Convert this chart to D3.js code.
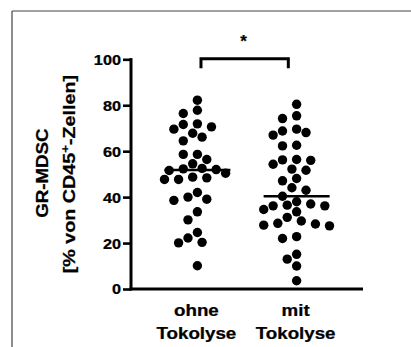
<!DOCTYPE html>
<html>
<head>
<meta charset="utf-8">
<script src="https://cdn.jsdelivr.net/npm/d3@7"></script>
<style>
  html, body { margin: 0; padding: 0; background: #fff; }
  svg { display: block; }
  text { font-family: "Liberation Sans", Arial, sans-serif; font-weight: bold; fill: #000; stroke: #000; stroke-width: 0.25px; }
</style>
</head>
<body>
<svg id="chart" width="411" height="347"></svg>
<script>
// ---- data ----
const groups = ["ohne Tokolyse", "mit Tokolyse"];
const groupLabelLines = [["ohne", "Tokolyse"], ["mit", "Tokolyse"]];
const ohneValues = [82.2, 77.8, 76.4, 71.9, 71.6, 70.6, 69.6, 67.8, 66.1, 64.5,
  58.6, 58.6, 56.4, 54.5, 52.5, 52.3, 52.0, 51.6, 50.4, 48.7, 48.4, 47.7, 47.7,
  42.0, 40.0, 39.1, 38.6, 33.6, 30.1, 24.6, 22.2, 20.3, 20.1, 10.1];
const mitValues = [80.4, 75.4, 74.2, 69.6, 68.8, 68.1, 67.0, 62.6, 62.3, 56.4,
  56.2, 56.0, 54.3, 52.2, 51.7, 48.1, 47.1, 44.1, 43.0, 40.4, 38.0, 37.0, 36.5,
  36.2, 36.2, 34.6, 33.6, 31.2, 29.6, 28.6, 28.3, 27.8, 27.5, 22.8, 22.0, 15.1,
  13.0, 10.0, 3.6];
const yTicks = [0, 20, 40, 60, 80, 100];
const yTitleLine1 = "GR-MDSC";
const yTitleLine2 = ["[%  von CD45", "+", "-Zellen]"];
const significance = "*";

// ---- layout ----
const svg = d3.select("#chart");
const axisX0 = 131, axisX1 = 363, axisY0 = 289, axisY1 = 59.3;
const stretch = 1.15;

const y = d3.scaleLinear().domain([0, 100]).range([axisY0, axisY1]);
const x = d3.scalePoint().domain(groups).range([axisX0, axisX1]).padding(0.669);

// frame
svg.append("line").attr("x1", 12).attr("y1", 11).attr("x2", 411).attr("y2", 11)
  .attr("stroke", "#444").attr("stroke-width", 1.2);
svg.append("line").attr("x1", 12).attr("y1", 11).attr("x2", 12).attr("y2", 347)
  .attr("stroke", "#444").attr("stroke-width", 1.2);

// y axis
const yAxis = svg.append("g")
  .attr("transform", `translate(${axisX0},0)`)
  .call(d3.axisLeft(y).tickValues(yTicks).tickSize(8).tickSizeOuter(0).tickPadding(2));
yAxis.select(".domain").attr("stroke", "#000").attr("stroke-width", 3)
  .attr("d", `M0,${axisY0 + 1.5}V${axisY1 - 1.2}`);
yAxis.selectAll(".tick line").attr("stroke", "#000").attr("stroke-width", 2.6);
yAxis.selectAll(".tick text")
  .attr("font-size", 13.8)
  .attr("font-family", "'Liberation Sans', Arial, sans-serif")
  .attr("font-weight", "bold")
  .attr("x", -10 / 1.18)
  .attr("dy", "0.36em")
  .attr("transform", "scale(1.18,1)");

// x axis
const xAxis = svg.append("g")
  .attr("transform", `translate(0,${axisY0})`)
  .call(d3.axisBottom(x).tickSize(0).tickSizeOuter(0).tickFormat(""));
xAxis.select(".domain").attr("stroke", "#000").attr("stroke-width", 3)
  .attr("d", `M${axisX0 - 1.5},0H${axisX1}`);

// x labels
groups.forEach((g, i) => {
  const lines = groupLabelLines[i];
  lines.forEach((ln, j) => {
    svg.append("text")
      .attr("transform", `translate(${x(g) - 1},${315.7 + j * 23.3}) scale(${stretch},1)`)
      .attr("text-anchor", "middle")
      .attr("font-size", 16.3)
      .text(ln);
  });
});

// y title
svg.append("text")
  .attr("transform", `translate(48.3,${(axisY0 + axisY1) / 2 - 1}) rotate(-90) scale(${stretch},1)`)
  .attr("text-anchor", "middle")
  .attr("font-size", 16.3)
  .text(yTitleLine1);
const t2 = svg.append("text")
  .attr("transform", `translate(75,${(axisY0 + axisY1) / 2}) rotate(-90) scale(1.21,1)`)
  .attr("text-anchor", "middle")
  .attr("font-size", 16.3);
t2.append("tspan").text(yTitleLine2[0]);
t2.append("tspan").attr("font-size", 11).attr("dy", -6).text(yTitleLine2[1]);
t2.append("tspan").attr("dy", 6).text(yTitleLine2[2]);

// swarm layout (greedy, half-diameter steps)
function swarm(values, cx, step, minDist) {
  const items = values.map(v => ({ v, py: y(v) })).sort((a, b) => b.v - a.v);
  const placed = [];
  items.forEach(p => {
    for (let k = 0; k < 40; k++) {
      const m = Math.ceil(k / 2) * (k % 2 === 1 ? -1 : 1);
      const px = cx + m * step;
      const hit = placed.some(q => (q.px - px) ** 2 + (q.py - p.py) ** 2 < minDist * minDist);
      if (!hit) { p.px = px; placed.push(p); break; }
    }
  });
  return placed;
}

const dotR = 4.7;
const series = [ohneValues, mitValues];
series.forEach((vals, i) => {
  const cx = x(groups[i]);
  const pts = swarm(vals, cx, dotR, 10.0);
  svg.append("g").selectAll("circle").data(pts).join("circle")
    .attr("cx", d => d.px).attr("cy", d => d.py).attr("r", dotR).attr("fill", "#000");
  const med = d3.median(vals);
  svg.append("line")
    .attr("x1", cx - 33).attr("x2", cx + 33)
    .attr("y1", y(med)).attr("y2", y(med))
    .attr("stroke", "#000").attr("stroke-width", 2.6);
});

// significance bracket
const bx1 = x(groups[0]) + 3.6, bx2 = x(groups[1]) - 8.3;
const bTop = 58.7, bBot = 68.3;
svg.append("path")
  .attr("d", `M${bx1},${bBot}V${bTop}H${bx2}V${bBot}`)
  .attr("fill", "none").attr("stroke", "#000").attr("stroke-width", 3);
svg.append("text")
  .attr("x", (bx1 + bx2) / 2 - 1).attr("y", 46.5)
  .attr("text-anchor", "middle").attr("font-size", 17)
  .text(significance);
</script>
</body>
</html>
